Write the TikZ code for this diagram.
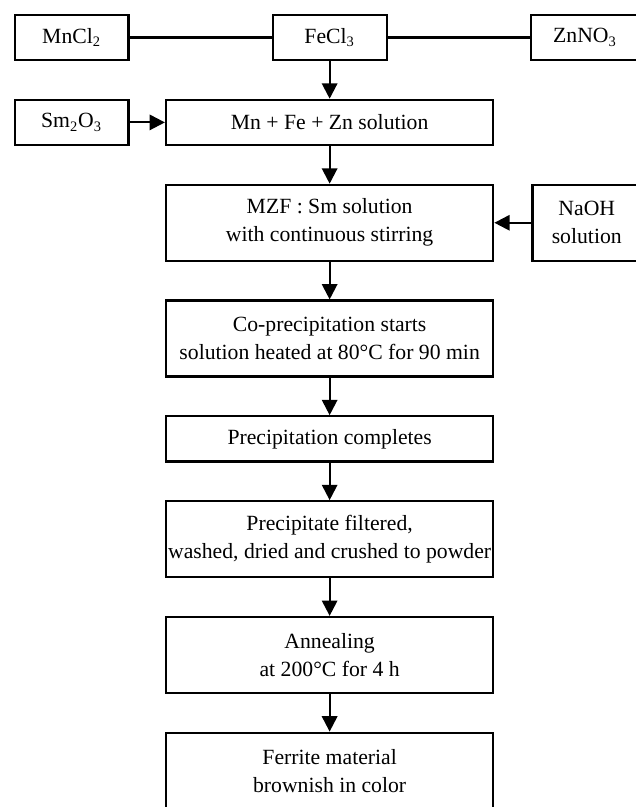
\documentclass[tikz,border=0pt]{standalone}
\usepackage{fontspec}
\setmainfont{Liberation Serif}
\usetikzlibrary{arrows.meta, positioning}

\begin{document}
\begin{tikzpicture}[
            node distance=20.8pt and 78.5pt,
            box_step/.style={
                draw, rectangle, line width=1.2pt, inner sep=1pt,
                minimum width=181pt, minimum height=25pt, align=center,
                font=\fontsize{12pt}{15.5pt}\selectfont
            },
            box_tall/.style={box_step, minimum height=42pt},
            box_salt/.style={
                draw, rectangle, line width=1.2pt,
                minimum width=63pt, minimum height=25pt, align=center,
                font=\fontsize{12pt}{15.5pt}\selectfont
            },
            seta/.style={-{Triangle[length=8.5pt,width=8.5pt]}, line width=1.2pt},
            liga/.style={line width=1.2pt}
        ]
            \useasboundingbox (0,0) rectangle (351.2pt,-446.3pt);

            % --- Sais de partida ---
            \node[box_salt] (fecl3) at (182.3pt,-20.7pt) {FeCl\textsubscript{3}};
            \node[box_salt, left=of fecl3] (mncl2) {MnCl\textsubscript{2}};
            \node[box_salt, right=of fecl3, minimum width=60pt] (znno3) {ZnNO\textsubscript{3}};
            \draw[liga] (mncl2) -- (fecl3);
            \draw[liga] (fecl3) -- (znno3);

            % --- Mistura e dopagem ---
            \node[box_step, below=of fecl3] (mix) {Mn + Fe + Zn solution};
            \node[box_salt, left=19.5pt of mix] (sm2o3) {Sm\textsubscript{2}O\textsubscript{3}};
            \draw[seta] (fecl3) -- (mix);
            \draw[seta] (sm2o3) -- (mix);

            \node[box_tall, below=of mix] (mzf) {MZF : Sm solution\\with continuous stirring};
            \node[box_salt, right=20.5pt of mzf, minimum width=60pt, minimum height=42pt] (naoh) {NaOH\\solution};
            \draw[seta] (mix) -- (mzf);
            \draw[seta] (naoh) -- (mzf);

            % --- Etapas do processo ---
            \node[box_tall, below=of mzf] (coprec) {Co-precipitation starts\\solution heated at 80°C for 90 min};
            \draw[seta] (mzf) -- (coprec);

            \node[box_step, below=of coprec] (precdone) {Precipitation completes};
            \draw[seta] (coprec) -- (precdone);

            \node[box_tall, below=of precdone] (filtered) {Precipitate filtered,\\washed, dried and crushed to powder};
            \draw[seta] (precdone) -- (filtered);

            \node[box_tall, below=of filtered] (anneal) {Annealing\\at 200°C for 4 h};
            \draw[seta] (filtered) -- (anneal);

            \node[box_tall, below=of anneal] (ferrite) {Ferrite material\\brownish in color};
            \draw[seta] (anneal) -- (ferrite);

        \end{tikzpicture}
\end{document}
